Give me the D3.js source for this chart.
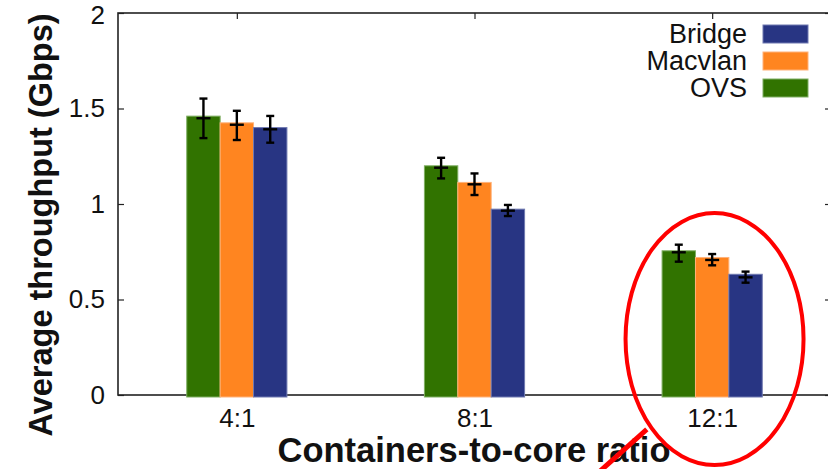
<!DOCTYPE html>
<html><head><meta charset="utf-8">
<script src="https://cdn.jsdelivr.net/npm/d3@7"></script>
<style>body{margin:0;background:#fff}svg{display:block}text{font-family:"Liberation Sans",Arial,sans-serif}</style>
</head><body><div id="chart"></div>
<script>
const categories = ["4:1", "8:1", "12:1"];
const seriesNames = ["OVS", "Macvlan", "Bridge"];
const legendOrder = ["Bridge", "Macvlan", "OVS"];
const ovs = [1.46, 1.20, 0.755];
const macvlan = [1.425, 1.113, 0.72];
const bridge = [1.40, 0.973, 0.632];
const ovsErrMid = [1.449, 1.19, 0.747];
const macvlanErrMid = [1.415, 1.103, 0.707];
const bridgeErrMid = [1.391, 0.965, 0.616];
const ovsErrLow = [1.345, 1.134, 0.698];
const ovsErrHigh = [1.552, 1.242, 0.787];
const macvlanErrLow = [1.335, 1.047, 0.679];
const macvlanErrHigh = [1.488, 1.16, 0.738];
const bridgeErrLow = [1.321, 0.937, 0.588];
const bridgeErrHigh = [1.461, 0.995, 0.646];
const yTicks = [0, 0.5, 1, 1.5, 2];
const yTickLabels = ["0", "0.5", "1", "1.5", "2"];

const colors = {OVS: "#317300", Macvlan: "#ff8520", Bridge: "#283583"};
const strokeColors = {OVS: "#7fae62", Macvlan: "#ffb27a", Bridge: "#6f79b0"};

const W = 828, H = 469;
const L = 118, R = 831, T = 13, B = 395;
const svg = d3.select("#chart").append("svg").attr("width", W).attr("height", H);

const x = d3.scaleLinear().domain([-0.5, 2.5]).range([L, R]);
const y = d3.scaleLinear().domain([0, 2]).range([B, T]);
const barW = 0.1405;

const series = [
  {name: "OVS", v: ovs, mid: ovsErrMid, lo: ovsErrLow, hi: ovsErrHigh, off: -1},
  {name: "Macvlan", v: macvlan, mid: macvlanErrMid, lo: macvlanErrLow, hi: macvlanErrHigh, off: 0},
  {name: "Bridge", v: bridge, mid: bridgeErrMid, lo: bridgeErrLow, hi: bridgeErrHigh, off: 1}
];

// axes
const axisColor = "#222";
svg.append("g").attr("transform", `translate(${L},0)`)
  .call(d3.axisLeft(y).tickValues(yTicks).tickFormat((d,i)=>yTickLabels[i]).tickSizeInner(-6).tickSizeOuter(0).tickPadding(13))
  .call(g => { g.select(".domain").remove(); g.selectAll("line").attr("stroke", axisColor).attr("stroke-width",1.2);
    g.selectAll("text").attr("font-size", 26).attr("fill","#111").attr("font-family","Liberation Sans, Arial, sans-serif");
    g.selectAll(".tick").filter(d => d === 2).select("text").attr("dy", "0.42em"); });
svg.append("g").attr("transform", `translate(${R},0)`)
  .call(d3.axisRight(y).tickValues(yTicks).tickFormat("").tickSizeInner(-6).tickSizeOuter(0))
  .call(g => { g.select(".domain").remove(); g.selectAll("line").attr("stroke", axisColor).attr("stroke-width",1.2); });
svg.append("g").attr("transform", `translate(0,${T})`)
  .call(d3.axisTop(x).tickValues([0,1,2]).tickFormat("").tickSizeInner(-6).tickSizeOuter(0))
  .call(g => { g.select(".domain").remove(); g.selectAll("line").attr("stroke", axisColor).attr("stroke-width",1.2); });
svg.append("g").attr("transform", `translate(0,${B})`)
  .call(d3.axisBottom(x).tickValues([0,1,2]).tickFormat((d)=>categories[d]).tickSizeInner(-6).tickSizeOuter(0).tickPadding(14))
  .call(g => { g.select(".domain").remove(); g.selectAll("line").attr("stroke", axisColor).attr("stroke-width",1.2);
    g.selectAll("text").attr("font-size", 26).attr("fill","#111").attr("font-family","Liberation Sans, Arial, sans-serif"); });
svg.append("rect").attr("x", L).attr("y", T).attr("width", R-L).attr("height", B-T)
  .attr("fill","none").attr("stroke", axisColor).attr("stroke-width", 1.6);

// bars
series.forEach(s => {
  svg.append("g").selectAll("rect").data(s.v).join("rect")
    .attr("x", (d,i) => x(i + (s.off - 0.5)*barW))
    .attr("y", d => y(d))
    .attr("width", x(barW) - x(0))
    .attr("height", d => y(0) - y(d) + 2)
    .attr("fill", colors[s.name])
    .attr("stroke", strokeColors[s.name]).attr("stroke-width", 1);
});

// error bars
series.forEach(s => {
  const g = svg.append("g").attr("stroke", "#000").attr("stroke-width", 2.4);
  s.v.forEach((d,i) => {
    const cx = x(i + s.off*barW);
    g.append("line").attr("x1", cx).attr("x2", cx).attr("y1", y(s.lo[i])).attr("y2", y(s.hi[i]));
    g.append("line").attr("x1", cx-4).attr("x2", cx+4).attr("y1", y(s.lo[i])).attr("y2", y(s.lo[i]));
    g.append("line").attr("x1", cx-4).attr("x2", cx+4).attr("y1", y(s.hi[i])).attr("y2", y(s.hi[i]));
    g.append("line").attr("x1", cx-7).attr("x2", cx+7).attr("y1", y(s.mid[i])).attr("y2", y(s.mid[i]));
  });
});

// legend
const lg = svg.append("g");
legendOrder.forEach((name, i) => {
  const cy = 34 + i*27;
  lg.append("rect").attr("x", 763).attr("y", cy-9).attr("width", 45).attr("height", 18)
    .attr("fill", colors[name]).attr("stroke", strokeColors[name]).attr("stroke-width",1);
  lg.append("text").attr("x", 747).attr("y", cy+9).attr("text-anchor","end")
    .attr("font-size", 27).attr("fill","#111").text(name);
});

// axis titles
svg.append("text").attr("x", 474).attr("y", 462).attr("text-anchor","middle")
  .attr("font-size", 34.5).attr("font-weight","bold").attr("fill","#111").text("Containers-to-core ratio");
svg.append("text").attr("transform", "translate(52,225) rotate(-90)").attr("text-anchor","middle")
  .attr("font-size", 32.5).attr("font-weight","bold").attr("fill","#111").text("Average throughput (Gbps)");

// red annotation
svg.append("ellipse").attr("cx", x(2.01)).attr("cy", y(0.293)).attr("rx", 89).attr("ry", 126)
  .attr("fill","none").attr("stroke","#ff0000").attr("stroke-width",4);
svg.append("line").attr("x1", x(1.725)).attr("y1", y(-0.18)).attr("x2", x(1.5)).attr("y2", y(-0.43))
  .attr("stroke","#ff0000").attr("stroke-width",5);
</script></body></html>
